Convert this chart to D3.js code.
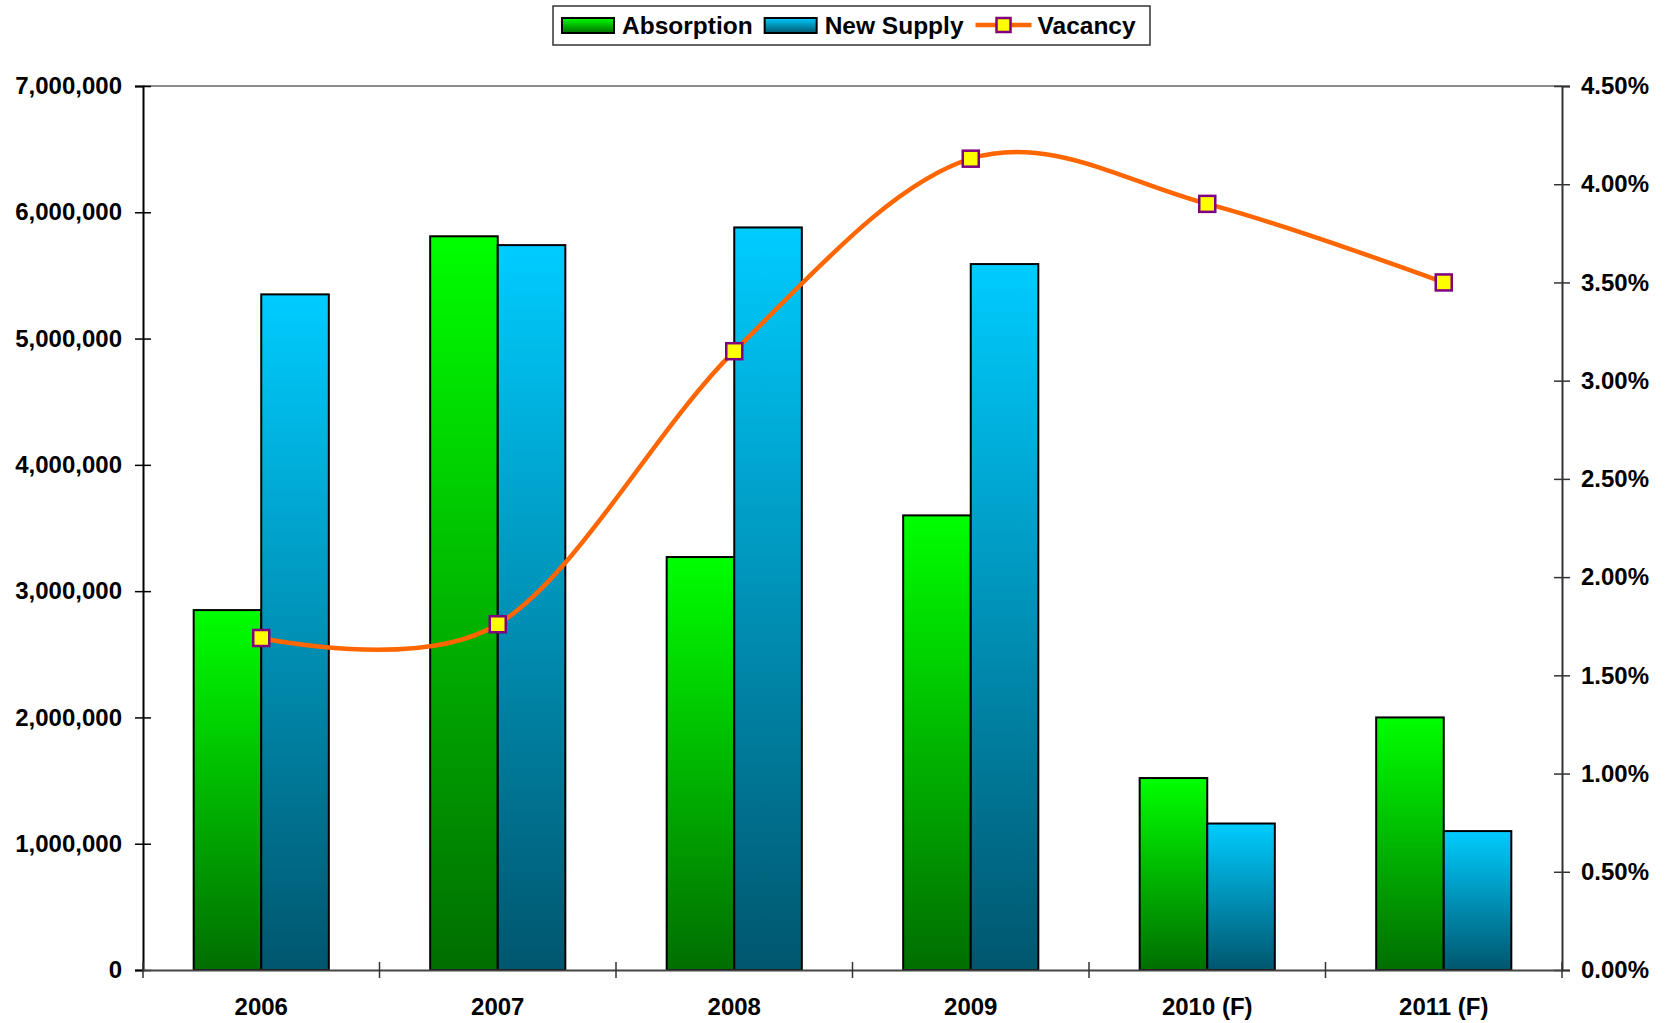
<!DOCTYPE html>
<meta charset="utf-8">
<script src="https://d3js.org/d3.v7.min.js"></script>
<style>
  body { margin: 0; background: #fff; }
  text { font-family: "Liberation Sans", Arial, sans-serif; font-weight: bold; fill: #000; }
</style>
<div id="chart"></div>
<script>
  // data
  var years = ["2006", "2007", "2008", "2009", "2010 (F)", "2011 (F)"];
  var absorption = [2850000, 5810000, 3270000, 3600000, 1520000, 2000000];
  var newSupply = [5350000, 5740000, 5880000, 5590000, 1160000, 1100000];
  var vacancy = [1.69, 1.76, 3.15, 4.13, 3.90, 3.50]; // percent
  var leftTicks = [0, 1000000, 2000000, 3000000, 4000000, 5000000, 6000000, 7000000];
  var rightTicks = [0, 0.5, 1, 1.5, 2, 2.5, 3, 3.5, 4, 4.5];
  var seriesNames = ["Absorption", "New Supply", "Vacancy"];

  var W = 1672, H = 1023;
  var margin = { top: 86, right: 110, bottom: 53, left: 143 };
  var width = W - margin.left - margin.right,
    height = H - margin.top - margin.bottom;

  var svg = d3.select("#chart").append("svg")
    .attr("width", W)
    .attr("height", H);

  // gradients
  var defs = svg.append("defs");
  function grad(id, top, bottom) {
    var g = defs.append("linearGradient").attr("id", id)
      .attr("x1", 0).attr("y1", 0).attr("x2", 0).attr("y2", 1);
    g.append("stop").attr("offset", "0%").attr("stop-color", top);
    g.append("stop").attr("offset", "100%").attr("stop-color", bottom);
  }
  grad("gGreen", "#00ff00", "#006e00");
  grad("gBlue", "#00ccff", "#00566e");

  var g = svg.append("g")
    .attr("transform", "translate(" + margin.left + "," + margin.top + ")");

  // scales
  var x = d3.scaleBand().domain(years).range([0, width]);
  var barW = x.bandwidth() / 3.5;
  var y = d3.scaleLinear().domain([0, 7000000]).range([height, 0]);
  var y2 = d3.scaleLinear().domain([0, 4.5]).range([height, 0]);

  // top border of plot area
  g.append("line")
    .attr("x1", 0).attr("x2", width).attr("y1", 0).attr("y2", 0)
    .attr("stroke", "#8c8c8c").attr("stroke-width", 2);

  // bars
  g.selectAll(".abs").data(years).enter().append("rect")
    .attr("x", function (d) { return x(d) + x.bandwidth() / 2 - barW; })
    .attr("y", function (d, i) { return y(absorption[i]); })
    .attr("width", barW)
    .attr("height", function (d, i) { return height - y(absorption[i]); })
    .attr("fill", "url(#gGreen)")
    .attr("stroke", "#000").attr("stroke-width", 2);

  g.selectAll(".sup").data(years).enter().append("rect")
    .attr("x", function (d) { return x(d) + x.bandwidth() / 2; })
    .attr("y", function (d, i) { return y(newSupply[i]); })
    .attr("width", barW)
    .attr("height", function (d, i) { return height - y(newSupply[i]); })
    .attr("fill", "url(#gBlue)")
    .attr("stroke", "#000").attr("stroke-width", 2);

  // left axis
  var yAxis = g.append("g")
    .call(d3.axisLeft(y).tickValues(leftTicks)
      .tickFormat(function (d) { return d === 0 ? "0" : d3.format(",")(d); })
      .tickSize(8));
  yAxis.select(".domain").attr("stroke", "#000").attr("stroke-width", 2);
  yAxis.selectAll(".tick line").attr("stroke", "#000").attr("stroke-width", 1.5).attr("x2", 8).attr("x1", -8);
  yAxis.selectAll("text").style("font-size", "24px").attr("x", -21);

  // right axis
  var y2Axis = g.append("g").attr("transform", "translate(" + width + ",0)")
    .call(d3.axisRight(y2).tickValues(rightTicks)
      .tickFormat(function (d) { return d3.format(".2f")(d) + "%"; })
      .tickSize(8));
  y2Axis.select(".domain").attr("stroke", "#333").attr("stroke-width", 2);
  y2Axis.selectAll(".tick line").attr("stroke", "#333").attr("stroke-width", 1.5).attr("x1", -8).attr("x2", 8);
  y2Axis.selectAll("text").style("font-size", "24px").attr("x", 19);

  // bottom axis
  var xAxis = g.append("g").attr("transform", "translate(0," + height + ")")
    .call(d3.axisBottom(x).tickSize(0).tickPadding(28));
  xAxis.select(".domain").attr("stroke", "#444").attr("stroke-width", 2);
  xAxis.selectAll("text").style("font-size", "24px");
  // category separator ticks
  xAxis.selectAll(".sep").data(d3.range(years.length + 1)).enter().append("line")
    .attr("x1", function (d) { return d * x.step(); })
    .attr("x2", function (d) { return d * x.step(); })
    .attr("y1", -8).attr("y2", 8)
    .attr("stroke", "#333").attr("stroke-width", 1.5);

  // vacancy line
  var line = d3.line()
    .x(function (d, i) { return x(years[i]) + x.bandwidth() / 2; })
    .y(function (d) { return y2(d); })
    .curve(d3.curveCardinal.tension(0));
  g.append("path").datum(vacancy)
    .attr("fill", "none").attr("stroke", "#ff6600").attr("stroke-width", 4.5)
    .attr("d", line);

  var mk = 16;
  g.selectAll(".mk").data(vacancy).enter().append("rect")
    .attr("x", function (d, i) { return x(years[i]) + x.bandwidth() / 2 - mk / 2; })
    .attr("y", function (d) { return y2(d) - mk / 2; })
    .attr("width", mk).attr("height", mk)
    .attr("fill", "#ffff00").attr("stroke", "#800080").attr("stroke-width", 2.5);

  // legend
  var legend = svg.append("g");
  legend.append("rect")
    .attr("x", 553).attr("y", 6).attr("width", 597).attr("height", 39)
    .attr("fill", "#fff").attr("stroke", "#333").attr("stroke-width", 1.5);
  var lx = 562;
  seriesNames.forEach(function (name, i) {
    if (i < 2) {
      legend.append("rect")
        .attr("x", lx).attr("y", 18).attr("width", 52).attr("height", 15)
        .attr("fill", i === 0 ? "url(#gGreen)" : "url(#gBlue)")
        .attr("stroke", "#000").attr("stroke-width", 2);
    } else {
      legend.append("line")
        .attr("x1", lx).attr("x2", lx + 56).attr("y1", 25).attr("y2", 25)
        .attr("stroke", "#ff6600").attr("stroke-width", 4.5);
      legend.append("rect")
        .attr("x", lx + 28 - 7).attr("y", 18).attr("width", 14).attr("height", 14)
        .attr("fill", "#ffff00").attr("stroke", "#800080").attr("stroke-width", 2.5);
    }
    var t = legend.append("text")
      .attr("x", lx + (i < 2 ? 60 : 62)).attr("y", 34)
      .style("font-size", "24.5px")
      .text(name);
    lx = lx + (i < 2 ? 60 : 62) + t.node().getComputedTextLength() + 12;
  });
</script>
